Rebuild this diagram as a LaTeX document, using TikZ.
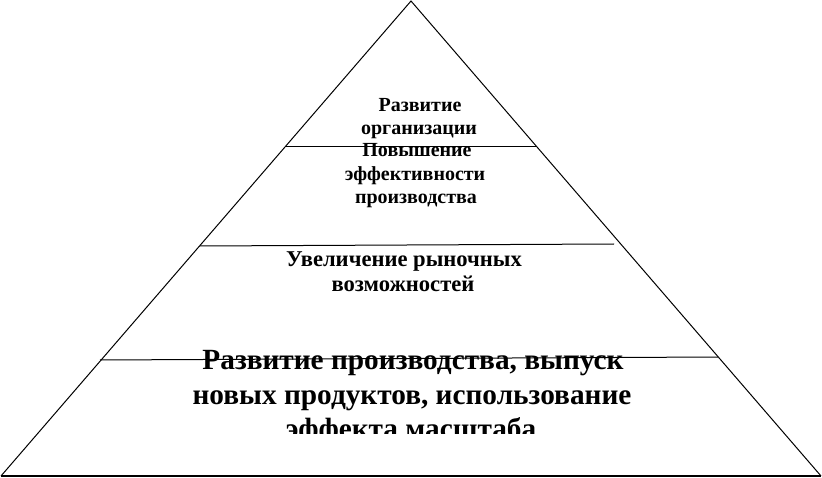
\documentclass[tikz,border=0pt]{standalone}
\usepackage{fontspec}
\setmainfont{Liberation Serif}
\begin{document}
\begin{tikzpicture}[x=1pt,y=-1pt,
  lbl/.style={font=\bfseries\fontsize{20}{23}\selectfont, inner sep=0pt, anchor=base},
  midlbl/.style={font=\bfseries\fontsize{22.6}{26}\selectfont, inner sep=0pt, anchor=base},
  biglbl/.style={font=\bfseries\fontsize{29.3}{34}\selectfont, inner sep=0pt, anchor=base},
  tier/.style={line width=1pt}]
\useasboundingbox (0,0) rectangle (822,478);
\fill[white] (0,0) rectangle (822,478);
\coordinate (A) at (411,1);
\coordinate (L) at (1,476);
\coordinate (R) at (821,476);
\draw[line width=1pt] (L) -- (A) -- (R);
\draw[line width=2pt] (L) -- (R);
\coordinate (l1) at (285,147); \coordinate (r1) at (537,147);
\coordinate (l2) at (200,246); \coordinate (r2) at (614,244);
\coordinate (l3) at (100,360); \coordinate (r3) at (718,357);
\node[lbl] (t1a) at (420,112) {Развитие};
\node[lbl] (t1b) at (419,135) {организации};
\node[lbl] (t2a) at (417,157) {Повышение};
\node[lbl] (t2b) at (415,181) {эффективности};
\node[lbl] (t2c) at (416,204) {производства};
\node[midlbl] (t3a) at (404,267) {Увеличение рыночных};
\node[midlbl] (t3b) at (403,292) {возможностей};
\node[biglbl] (t4a) at (413,370) {Развитие производства, выпуск};
\node[biglbl] (t4b) at (412,404) {новых продуктов, использование};
\begin{scope}
\clip (0,0) rectangle (822,433);
\node[biglbl] (t4c) at (411,438) {эффекта масштаба};
\end{scope}
\draw[tier] (l1) -- (r1);
\draw[tier] (l2) -- (r2);
\draw[tier] (l3) -- (r3);
\end{tikzpicture}
\end{document}
